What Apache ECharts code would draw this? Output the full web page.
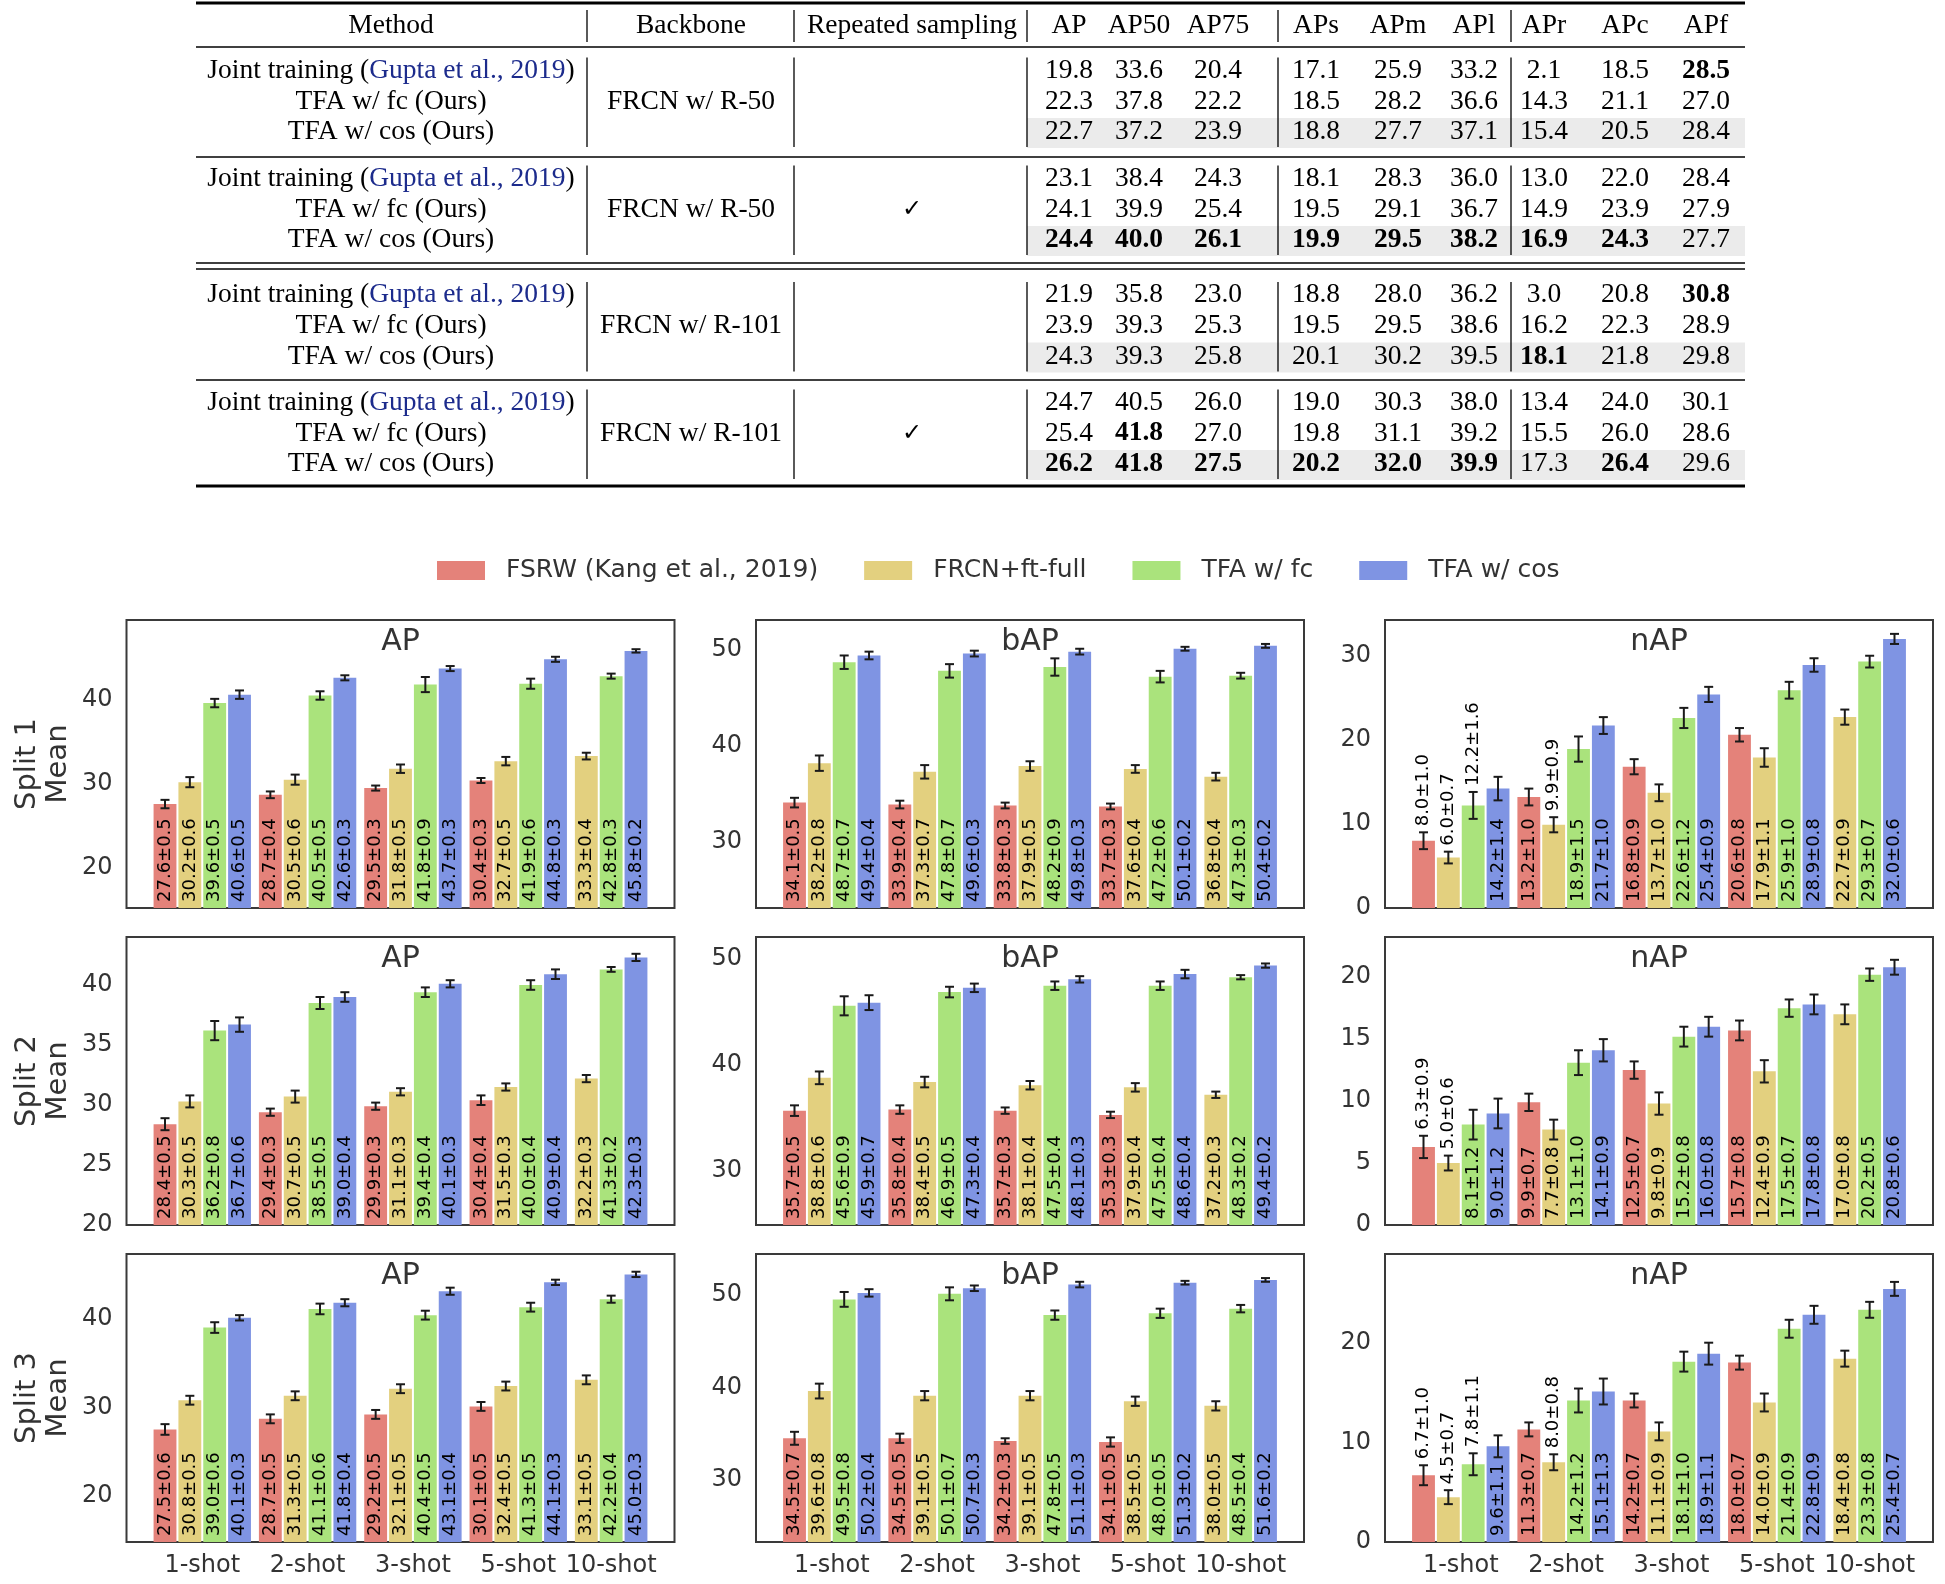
<!DOCTYPE html>
<html><head><meta charset="utf-8">
<script src="https://cdn.jsdelivr.net/npm/echarts@6/dist/echarts.min.js"></script>
<style>html,body{margin:0;padding:0;background:#fff}#c{width:1945px;height:1584px}</style>
</head><body><div id="c"></div>
<script>
// ---------------- DATA ----------------
const methods = ['FSRW (Kang et al., 2019)', 'FRCN+ft-full', 'TFA w/ fc', 'TFA w/ cos'];
const shots = ['1-shot', '2-shot', '3-shot', '5-shot', '10-shot'];
const metrics = ['AP', 'bAP', 'nAP'];
const splits = ['Split 1', 'Split 2', 'Split 3'];
// rows = methods, columns = shots (null = not reported)
const s1_AP      = [[27.6,28.7,29.5,30.4,null],[30.2,30.5,31.8,32.7,33.3],[39.6,40.5,41.8,41.9,42.8],[40.6,42.6,43.7,44.8,45.8]];
const s1_AP_err  = [[0.5,0.4,0.3,0.3,null],[0.6,0.6,0.5,0.5,0.4],[0.5,0.5,0.9,0.6,0.3],[0.5,0.3,0.3,0.3,0.2]];
const s1_bAP     = [[34.1,33.9,33.8,33.7,null],[38.2,37.3,37.9,37.6,36.8],[48.7,47.8,48.2,47.2,47.3],[49.4,49.6,49.8,50.1,50.4]];
const s1_bAP_err = [[0.5,0.4,0.3,0.3,null],[0.8,0.7,0.5,0.4,0.4],[0.7,0.7,0.9,0.6,0.3],[0.4,0.3,0.3,0.2,0.2]];
const s1_nAP     = [[8.0,13.2,16.8,20.6,null],[6.0,9.9,13.7,17.9,22.7],[12.2,18.9,22.6,25.9,29.3],[14.2,21.7,25.4,28.9,32.0]];
const s1_nAP_err = [[1.0,1.0,0.9,0.8,null],[0.7,0.9,1.0,1.1,0.9],[1.6,1.5,1.2,1.0,0.7],[1.4,1.0,0.9,0.8,0.6]];
const s2_AP      = [[28.4,29.4,29.9,30.4,null],[30.3,30.7,31.1,31.5,32.2],[36.2,38.5,39.4,40.0,41.3],[36.7,39.0,40.1,40.9,42.3]];
const s2_AP_err  = [[0.5,0.3,0.3,0.4,null],[0.5,0.5,0.3,0.3,0.3],[0.8,0.5,0.4,0.4,0.2],[0.6,0.4,0.3,0.4,0.3]];
const s2_bAP     = [[35.7,35.8,35.7,35.3,null],[38.8,38.4,38.1,37.9,37.2],[45.6,46.9,47.5,47.5,48.3],[45.9,47.3,48.1,48.6,49.4]];
const s2_bAP_err = [[0.5,0.4,0.3,0.3,null],[0.6,0.5,0.4,0.4,0.3],[0.9,0.5,0.4,0.4,0.2],[0.7,0.4,0.3,0.4,0.2]];
const s2_nAP     = [[6.3,9.9,12.5,15.7,null],[5.0,7.7,9.8,12.4,17.0],[8.1,13.1,15.2,17.5,20.2],[9.0,14.1,16.0,17.8,20.8]];
const s2_nAP_err = [[0.9,0.7,0.7,0.8,null],[0.6,0.8,0.9,0.9,0.8],[1.2,1.0,0.8,0.7,0.5],[1.2,0.9,0.8,0.8,0.6]];
const s3_AP      = [[27.5,28.7,29.2,30.1,null],[30.8,31.3,32.1,32.4,33.1],[39.0,41.1,40.4,41.3,42.2],[40.1,41.8,43.1,44.1,45.0]];
const s3_AP_err  = [[0.6,0.5,0.5,0.5,null],[0.5,0.5,0.5,0.5,0.5],[0.6,0.6,0.5,0.5,0.4],[0.3,0.4,0.4,0.3,0.3]];
const s3_bAP     = [[34.5,34.5,34.2,34.1,null],[39.6,39.1,39.1,38.5,38.0],[49.5,50.1,47.8,48.0,48.5],[50.2,50.7,51.1,51.3,51.6]];
const s3_bAP_err = [[0.7,0.5,0.3,0.5,null],[0.8,0.5,0.5,0.5,0.5],[0.8,0.7,0.5,0.5,0.4],[0.4,0.3,0.3,0.2,0.2]];
const s3_nAP     = [[6.7,11.3,14.2,18.0,null],[4.5,8.0,11.1,14.0,18.4],[7.8,14.2,18.1,21.4,23.3],[9.6,15.1,18.9,22.8,25.4]];
const s3_nAP_err = [[1.0,0.7,0.7,0.7,null],[0.7,0.8,0.9,0.9,0.8],[1.1,1.2,1.0,0.9,0.8],[1.1,1.3,1.1,0.9,0.7]];
// y tick labels per split / metric
const yTicks = [
  [[20,30,40],[30,40,50],[0,10,20,30]],
  [[20,25,30,35,40],[30,40,50],[0,5,10,15,20]],
  [[20,30,40],[30,40,50],[0,10,20]]
];
// table
const tableHeader = ['Method', 'Backbone', 'Repeated sampling', 'AP', 'AP50', 'AP75', 'APs', 'APm', 'APl', 'APr', 'APc', 'APf'];
const tableMethods = ['Joint training', 'TFA w/ fc (Ours)', 'TFA w/ cos (Ours)'];
const tableCitation = 'Gupta et al., 2019';
const tableBackbones = ['FRCN w/ R-50', 'FRCN w/ R-50', 'FRCN w/ R-101', 'FRCN w/ R-101'];
const tableRepeated = [false, true, false, true];
const tableValues = [
  [[19.8,33.6,20.4,17.1,25.9,33.2,2.1,18.5,28.5],[22.3,37.8,22.2,18.5,28.2,36.6,14.3,21.1,27.0],[22.7,37.2,23.9,18.8,27.7,37.1,15.4,20.5,28.4]],
  [[23.1,38.4,24.3,18.1,28.3,36.0,13.0,22.0,28.4],[24.1,39.9,25.4,19.5,29.1,36.7,14.9,23.9,27.9],[24.4,40.0,26.1,19.9,29.5,38.2,16.9,24.3,27.7]],
  [[21.9,35.8,23.0,18.8,28.0,36.2,3.0,20.8,30.8],[23.9,39.3,25.3,19.5,29.5,38.6,16.2,22.3,28.9],[24.3,39.3,25.8,20.1,30.2,39.5,18.1,21.8,29.8]],
  [[24.7,40.5,26.0,19.0,30.3,38.0,13.4,24.0,30.1],[25.4,41.8,27.0,19.8,31.1,39.2,15.5,26.0,28.6],[26.2,41.8,27.5,20.2,32.0,39.9,17.3,26.4,29.6]]
];

// ---------------- LAYOUT / STYLE ----------------
const W = 1945, H = 1584;
const colors = ['#E4827A', '#E3D07F', '#AAE37C', '#7F94E3'];
const sans = '"DejaVu Sans", sans-serif';
const serif = '"Liberation Serif", "DejaVu Serif", serif';
const textGray = '#333333';
const gridLeft = [126.5, 756, 1385], gridTop = [620, 937, 1254], gridW = 548, gridH = 288;
const yRange = [
  [[15.25, 49.47], [23.14, 53.09], [0, 34.25]],
  [[20, 44.0], [24.9, 52.1], [0, 23.24]],
  [[14.8, 47.3], [23.3, 54.4], [0, 28.9]]
];
// labels drawn above the error bar (too short bars) : [method, shot]
const labelsAbove = [
  [[], [], [[0,0],[1,0],[2,0],[1,1]]],
  [[], [], [[0,0],[1,0]]],
  [[], [], [[0,0],[1,0],[2,0],[1,1]]]
];
const G = 4.24, BW = 0.92, XPAD = 1.05;
const XMAX = 4 * G + 3 + XPAD;

const panelData = {
  '0_0': [s1_AP, s1_AP_err], '0_1': [s1_bAP, s1_bAP_err], '0_2': [s1_nAP, s1_nAP_err],
  '1_0': [s2_AP, s2_AP_err], '1_1': [s2_bAP, s2_bAP_err], '1_2': [s2_nAP, s2_nAP_err],
  '2_0': [s3_AP, s3_AP_err], '2_1': [s3_bAP, s3_bAP_err], '2_2': [s3_nAP, s3_nAP_err]
};

function slotOf(vals, m, s) {
  let k = 0;
  for (let i = 0; i < m; i++) if (vals[i][s] != null) k++;
  return k;
}
function groupSize(vals, s) {
  let k = 0;
  for (let i = 0; i < vals.length; i++) if (vals[i][s] != null) k++;
  return k;
}

const grids = [], xAxes = [], yAxes = [], series = [], graphics = [];

function makeRender(above) {
  return function (params, api) {
    const cs = params.coordSys;
    const x = api.value(0), v = api.value(1), e = api.value(2);
    const m = api.value(3), s = api.value(4);
    const base = cs.y + cs.height;
    const pl = api.coord([x - BW / 2, v]);
    const pr = api.coord([x + BW / 2, v]);
    const xc = (pl[0] + pr[0]) / 2;
    const top = Math.min(pl[1], base);
    const eTop = api.coord([x, v + e])[1];
    const eBot = api.coord([x, v - e])[1];
    const color = api.visual('color');
    const ls = { stroke: '#1a1a1a', lineWidth: 2 };
    const cap = 4.5;
    const isAbove = above.some(a => a[0] === m && a[1] === s);
    const ty = isAbove ? eTop - 6 : base - 6;
    return {
      type: 'group',
      children: [
        { type: 'rect', shape: { x: pl[0], y: top, width: pr[0] - pl[0], height: base - top }, style: { fill: color } },
        { type: 'line', shape: { x1: xc, y1: eTop, x2: xc, y2: eBot }, style: ls },
        { type: 'line', shape: { x1: xc - cap, y1: eTop, x2: xc + cap, y2: eTop }, style: ls },
        { type: 'line', shape: { x1: xc - cap, y1: eBot, x2: xc + cap, y2: eBot }, style: ls },
        { type: 'text', x: xc, y: ty, rotation: Math.PI / 2, z2: 10,
          style: { text: v.toFixed(1) + '\u00b1' + e.toFixed(1), fill: '#000', font: '18px ' + sans,
                   align: 'left', verticalAlign: 'middle', textAlign: 'left', textVerticalAlign: 'middle' } }
      ]
    };
  };
}

let idx = 0;
for (let r = 0; r < 3; r++) {
  for (let c = 0; c < 3; c++) {
    const [vals, errs] = panelData[r + '_' + c];
    grids.push({ left: gridLeft[c], top: gridTop[r], width: gridW, height: gridH, show: true,
                 borderColor: '#3a3a3a', borderWidth: 2, backgroundColor: '#fff', containLabel: false });
    const centers = shots.map((_, s) => s * G + groupSize(vals, s) / 2);
    xAxes.push({
      type: 'value', gridIndex: idx, min: -XPAD, max: XMAX,
      axisLine: { show: false }, axisTick: { show: false }, splitLine: { show: false },
      axisLabel: {
        show: r === 2,
        customValues: centers, margin: 12, fontSize: 24, color: textGray, fontFamily: sans,
        formatter: (val) => { const k = centers.findIndex(cv => Math.abs(cv - val) < 1e-6); return k >= 0 ? shots[k] : ''; }
      }
    });
    yAxes.push({
      type: 'value', gridIndex: idx, min: yRange[r][c][0], max: yRange[r][c][1],
      axisLine: { show: false }, axisTick: { show: false }, splitLine: { show: false },
      axisLabel: { customValues: yTicks[r][c], margin: 14, fontSize: 24, color: textGray, fontFamily: sans }
    });
    for (let m = 0; m < methods.length; m++) {
      const data = [];
      for (let s = 0; s < shots.length; s++) {
        if (vals[m][s] == null) continue;
        data.push([s * G + slotOf(vals, m, s) + 0.5, vals[m][s], errs[m][s], m, s]);
      }
      series.push({
        type: 'custom', name: methods[m], xAxisIndex: idx, yAxisIndex: idx,
        itemStyle: { color: colors[m] }, renderItem: makeRender(labelsAbove[r][c]),
        data: data, clip: true, encode: { x: 0, y: 1 }
      });
    }
    graphics.push({ type: 'text', x: gridLeft[c] + gridW / 2, y: gridTop[r] + 22,
      style: { text: metrics[c], font: '30px ' + sans, fill: textGray, align: 'center', verticalAlign: 'middle', textAlign: 'center', textVerticalAlign: 'middle' } });
    idx++;
  }
  const cy = gridTop[r] + gridH / 2;
  graphics.push({ type: 'text', x: 27, y: cy, rotation: Math.PI / 2,
    style: { text: splits[r], font: '29px ' + sans, fill: textGray, align: 'center', verticalAlign: 'middle', textAlign: 'center', textVerticalAlign: 'middle' } });
  graphics.push({ type: 'text', x: 58, y: cy, rotation: Math.PI / 2,
    style: { text: 'Mean', font: '29px ' + sans, fill: textGray, align: 'center', verticalAlign: 'middle', textAlign: 'center', textVerticalAlign: 'middle' } });
}

// ---------------- TABLE ----------------
const tblL = 196, tblR = 1745;
const colX = [391, 691, 912, 1069, 1139, 1218, 1316, 1398, 1474, 1544, 1625, 1706];
const vlineX = [587, 794, 1027, 1278, 1511];
const headerY = 26;
const groupRowY = [70.5, 178.5, 295, 402.5];
const rowH = 30.8;
const tFont = 27.5;
function tText(x, y, text, bold, extra) {
  return Object.assign({ type: 'text', x: x, y: y, z: 5,
    style: Object.assign({ text: text, font: (bold ? 'bold ' : '') + tFont + 'px ' + serif, fill: '#000',
      align: 'center', verticalAlign: 'middle', textAlign: 'center', textVerticalAlign: 'middle' }, extra || {}) });
}
function hline(y, w) { graphics.push({ type: 'line', z: 5, shape: { x1: tblL, y1: y, x2: tblR, y2: y }, style: { stroke: '#000', lineWidth: w } }); }
function vline(y1, y2) { vlineX.forEach(x => graphics.push({ type: 'line', z: 5, shape: { x1: x, y1: y1, x2: x, y2: y2 }, style: { stroke: '#000', lineWidth: 1.3 } })); }

// gray bands
groupRowY.forEach(y0 => {
  graphics.push({ type: 'rect', z: 1, shape: { x: vlineX[2], y: y0 + 2 * rowH - 14, width: tblR - vlineX[2], height: 30 }, style: { fill: '#ebebeb' } });
});
// rules
hline(3, 3);
hline(47, 1.5);
hline(157, 1.5);
hline(263, 1.5);
hline(269, 1.5);
hline(380, 1.5);
hline(486, 3);
// vertical lines
vline(10, 42);
groupRowY.forEach(y0 => vline(y0 - 13, y0 + 2 * rowH + 15));
// header
tableHeader.forEach((h, i) => graphics.push(tText(colX[i], headerY, h, false)));
// best per column within each backbone (pairs of groups) is set in bold
const bestPerBackbone = [[0, 1], [2, 3]].map(gs => {
  const best = [];
  for (let c = 0; c < 9; c++) {
    let mx = -Infinity;
    gs.forEach(g => tableValues[g].forEach(row => { mx = Math.max(mx, row[c]); }));
    best.push(mx);
  }
  return best;
});
groupRowY.forEach((y0, g) => {
  const best = bestPerBackbone[g < 2 ? 0 : 1];
  tableMethods.forEach((mname, r) => {
    const y = y0 + r * rowH;
    if (r === 0) {
      graphics.push({ type: 'text', x: colX[0], y: y, z: 5,
        style: { text: mname + ' ({c|' + tableCitation + '})', font: tFont + 'px ' + serif, fill: '#000',
          align: 'center', verticalAlign: 'middle', textAlign: 'center', textVerticalAlign: 'middle',
          rich: { c: { fill: '#1c2b8c', font: tFont + 'px ' + serif } } } });
    } else {
      graphics.push(tText(colX[0], y, mname, false));
    }
    tableValues[g][r].forEach((v, c) => {
      graphics.push(tText(colX[3 + c], y, v.toFixed(1), v === best[c]));
    });
  });
  graphics.push(tText(colX[1], y0 + rowH, tableBackbones[g], false));
  if (tableRepeated[g]) graphics.push(tText(colX[2], y0 + rowH, '\u2713', false, { font: '24px "DejaVu Sans", sans-serif' }));
});

const option = {
  animation: false,
  backgroundColor: '#fff',
  legend: {
    data: methods, left: 432, top: 553, itemWidth: 48, itemHeight: 19, itemGap: 46, icon: 'rect',
    textStyle: { fontSize: 25, color: textGray, fontFamily: sans, padding: [0, 0, 0, 16] }
  },
  grid: grids, xAxis: xAxes, yAxis: yAxes, series: series,
  graphic: { elements: graphics }
};
const chart = echarts.init(document.getElementById('c'), null, { renderer: 'canvas', width: W, height: H });
chart.setOption(option);
</script></body></html>
